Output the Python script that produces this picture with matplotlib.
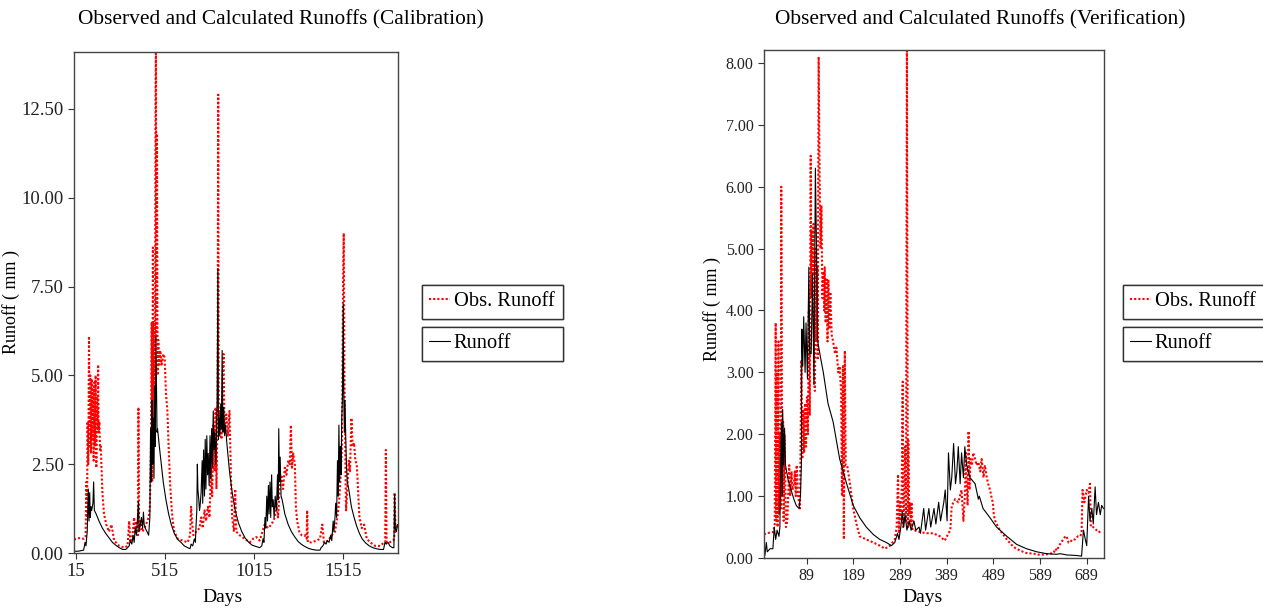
import matplotlib
matplotlib.use("Agg")
import matplotlib.pyplot as plt
from matplotlib.lines import Line2D
from matplotlib.ticker import FormatStrFormatter

# Calibration period - observed runoff (day, mm)
calObsDays = [6, 34, 62, 71, 75, 79, 82, 86, 90, 94, 97, 101, 105, 109, 112, 116, 120, 124, 127, 131,
              135, 139, 141, 144, 148, 152, 156, 165, 174, 187, 202, 216, 231, 259, 287, 306, 315, 321,
              334, 343, 349, 356, 364, 367, 371, 381, 390, 409, 424, 431, 437, 441, 444, 448, 452, 456,
              459, 463, 465, 467, 471, 474, 478, 484, 489, 497, 506, 514, 521, 529, 536, 544, 551, 559,
              568, 587, 615, 643, 656, 662, 667, 675, 690, 709, 718, 727, 737, 746, 756, 765, 774, 780,
              787, 793, 799, 804, 810, 814, 817, 825, 832, 838, 844, 849, 859, 868, 877, 885, 892, 902,
              909, 915, 934, 962, 990, 1009, 1027, 1046, 1074, 1093, 1112, 1131, 1140, 1149, 1159, 1168,
              1177, 1187, 1196, 1206, 1215, 1221, 1227, 1234, 1243, 1249, 1256, 1268, 1281, 1299, 1309,
              1312, 1316, 1337, 1365, 1384, 1397, 1406, 1431, 1449, 1468, 1481, 1492, 1500, 1507, 1513,
              1517, 1521, 1524, 1530, 1537, 1545, 1552, 1560, 1567, 1575, 1582, 1590, 1597, 1605, 1618,
              1631, 1646, 1665, 1693, 1721, 1744, 1749, 1753, 1757, 1774, 1793, 1800, 1802, 1807, 1815, 1821]
calObs = [0.38, 0.42, 0.4, 0.45, 2.0, 1.0, 3.7, 2.5, 6.1, 3.0, 5.0, 2.8, 4.9, 3.2, 4.6, 2.6, 4.8, 3.0, 5.0, 2.4,
          4.4, 3.5, 5.3, 3.4, 3.7, 2.9, 3.0, 1.7, 1.1, 0.8, 0.6, 0.8, 0.35, 0.2, 0.15, 0.2, 0.9, 0.3,
          0.5, 1.0, 0.6, 0.9, 0.5, 4.1, 0.6, 0.9, 0.6, 0.8, 1.0, 1.3, 3.0, 6.5, 2.0, 8.6, 3.0, 6.5,
          4.5, 13.0, 14.3, 6.0, 11.8, 5.0, 6.0, 5.3, 5.7, 5.3, 5.6, 5.5, 4.5, 4.0, 3.0, 2.0, 1.4, 0.9,
          0.6, 0.4, 0.35, 0.3, 0.5, 1.3, 0.9, 0.5, 0.6, 0.7, 1.0, 0.7, 1.2, 0.9, 1.3, 1.0, 2.4, 1.6,
          3.6, 2.3, 4.1, 1.8, 3.9, 12.9, 3.3, 4.0, 3.2, 5.0, 5.6, 3.4, 3.9, 3.3, 4.0, 2.2, 1.0, 0.6,
          1.8, 0.6, 0.5, 0.4, 0.3, 0.4, 0.45, 0.35, 0.8, 0.7, 0.8, 1.0, 1.4, 1.0, 1.9, 2.2,
          1.8, 2.4, 2.2, 2.6, 2.5, 3.6, 2.4, 2.8, 2.5, 1.3, 0.9, 0.6, 0.5, 0.5, 0.4,
          1.2, 0.3, 0.3, 0.35, 0.4, 0.8, 0.3, 0.35, 0.5, 0.6, 1.0, 1.5, 2.2, 3.0, 7.5,
          9.0, 5.0, 3.5, 1.2, 1.8, 2.6, 2.3, 3.8, 3.0, 3.1, 2.6, 2.5, 1.8, 1.0, 0.7,
          0.8, 0.4, 0.3, 0.2, 0.2, 0.3, 0.3, 2.9, 0.3, 0.3, 0.35, 0.4, 1.7, 0.6, 0.75, 0.7]

# Calibration period - calculated runoff
calSimDays = [6, 30, 60, 68, 73, 80, 86, 90, 94, 97, 101, 105, 112, 116, 120, 130, 146, 165, 184, 203,
              221, 240, 259, 278, 296, 306, 315, 321, 330, 337, 343, 349, 356, 362, 367, 371, 377, 384,
              390, 395, 399, 405, 415, 424, 431, 435, 439, 443, 446, 450, 454, 458, 461, 465, 468, 471,
              474, 484, 495, 506, 521, 536, 551, 568, 587, 605, 624, 643, 656, 662, 671, 680, 686, 690,
              694, 697, 700, 705, 709, 712, 718, 724, 727, 732, 737, 741, 745, 750, 754, 758, 763, 768,
              772, 777, 781, 786, 790, 795, 800, 804, 808, 812, 815, 819, 823, 828, 832, 836, 840, 845,
              850, 855, 862, 877, 892, 909, 927, 946, 965, 985, 1004, 1027, 1046, 1058, 1065, 1070, 1076,
              1080, 1086, 1090, 1095, 1099, 1104, 1108, 1113, 1117, 1122, 1127, 1133, 1140, 1146, 1150,
              1153, 1157, 1161, 1166, 1172, 1187, 1206, 1224, 1243, 1262, 1281, 1300, 1320, 1340, 1365,
              1384, 1390, 1400, 1410, 1418, 1425, 1435, 1444, 1450, 1458, 1462, 1468, 1472, 1477, 1482,
              1486, 1490, 1494, 1498, 1502, 1506, 1510, 1514, 1517, 1521, 1524, 1528, 1532, 1537, 1545,
              1560, 1575, 1590, 1605, 1620, 1640, 1660, 1680, 1700, 1720, 1740, 1748, 1755, 1765, 1775,
              1790, 1798, 1802, 1806, 1812, 1818, 1821]
calSim = [0.05, 0.05, 0.08, 0.3, 0.2, 0.6, 1.8, 0.9, 1.7, 1.0, 1.3, 1.2, 1.4, 2.0, 1.2, 1.1, 0.9, 0.7, 0.55, 0.42,
          0.3, 0.22, 0.15, 0.1, 0.1, 0.15, 0.2, 0.35, 0.25, 0.5, 0.3, 0.7, 0.5, 1.0, 1.45, 0.6, 0.8, 1.0,
          0.7, 1.15, 0.8, 0.7, 0.6, 0.5, 1.0, 3.5, 2.0, 4.3, 2.5, 3.8, 2.1, 4.7, 3.0, 6.1, 4.8, 3.4,
          3.5, 3.0, 2.5, 2.0, 1.5, 1.1, 0.8, 0.55, 0.38, 0.3, 0.2, 0.15, 0.12, 0.25, 0.2, 0.4, 0.3, 0.8,
          1.2, 2.5, 1.8, 1.5, 1.2, 1.3, 1.7, 2.6, 1.4, 2.9, 1.6, 3.2, 1.8, 3.3, 2.2, 2.8, 1.9, 3.3,
          2.1, 3.5, 2.4, 4.0, 2.9, 3.4, 2.5, 3.3, 4.3, 8.0, 3.2, 3.8, 3.3, 4.2, 3.5, 5.7, 3.4, 4.1,
          3.3, 3.6, 3.1, 2.3, 1.7, 1.2, 0.85, 0.6, 0.42, 0.3, 0.22, 0.18, 0.15, 0.2, 0.4, 0.3, 1.0,
          0.7, 1.6, 0.9, 1.9, 1.1, 2.0, 1.0, 2.2, 1.3, 1.5, 1.0, 1.6, 1.2, 2.2, 1.5,
          3.5, 2.0, 2.7, 1.6, 1.5, 1.1, 0.8, 0.6, 0.45, 0.32, 0.24, 0.18, 0.13, 0.1, 0.08,
          0.08, 0.15, 0.2, 0.3, 0.25, 0.35, 0.3, 0.5, 0.35, 0.9, 0.6, 1.0, 1.4, 1.0, 2.6,
          1.6, 3.6, 2.0, 3.0, 2.2, 3.8, 4.4, 7.0, 4.6, 3.4, 4.3, 3.3, 2.5, 2.0, 1.8,
          1.3, 1.0, 0.75, 0.55, 0.4, 0.28, 0.2, 0.15, 0.12, 0.1, 0.1, 0.3, 0.25, 0.3, 0.2,
          0.15, 0.15, 1.65, 0.7, 0.6, 0.8, 0.8]

# Verification period - observed runoff
verObsDays = [-2, 3, 18, 21, 23, 24, 26, 27, 29, 30, 32, 34, 35, 37, 39, 40, 42, 45, 48, 52, 54, 57, 59, 62,
              64, 66, 68, 71, 75, 78, 80, 82, 84, 86, 88, 90, 92, 94, 96, 98, 99, 100, 102, 104, 105, 107,
              109, 110, 112, 113, 115, 117, 119, 121, 123, 125, 127, 128, 130, 132, 134, 136, 138, 140,
              143, 146, 150, 153, 157, 160, 163, 165, 167, 169, 171, 173, 176, 182, 189, 196, 203, 217,
              232, 246, 257, 268, 278, 282, 285, 287, 289, 291, 293, 295, 296, 298, 300, 302, 304, 306,
              307, 309, 311, 312, 314, 316, 319, 332, 346, 360, 375, 385, 393, 397, 400, 404, 407, 414,
              421, 425, 428, 430, 432, 434, 436, 438, 440, 443, 446, 450, 453, 457, 461, 464, 468, 471,
              475, 478, 482, 486, 488, 490, 493, 503, 518, 532, 546, 560, 575, 589, 603, 618, 622, 625,
              630, 634, 639, 643, 646, 650, 653, 658, 664, 670, 675, 678, 680, 684, 689, 693, 696, 698,
              703, 710, 714, 718, 721]
verObs = [0.38, 0.4, 0.42, 0.55, 3.8, 0.6, 3.0, 0.5, 3.5, 0.7, 2.0, 0.8, 6.0, 1.0, 2.2, 0.6, 2.0, 0.5, 0.6, 1.5,
          1.0, 1.4, 1.1, 1.2, 1.4, 1.0, 1.5, 1.0, 0.8, 3.2, 1.6, 2.4, 1.7, 2.5, 1.8, 2.6, 2.0, 4.0, 2.3,
          6.5, 4.2, 5.3, 4.6, 5.4, 2.9, 2.7, 5.0, 3.5, 4.7, 3.2, 8.1, 6.2, 5.0, 5.7, 4.2, 4.6, 4.0, 4.7,
          3.8, 4.5, 3.5, 4.5, 3.7, 4.3, 3.6, 3.5, 3.3, 3.4, 3.0, 3.1, 2.7, 1.0, 3.1, 0.3, 3.35, 1.5, 1.5,
          1.2, 0.8, 0.55, 0.35, 0.3, 0.25, 0.2, 0.15, 0.2, 0.3, 0.5, 1.35, 0.4, 0.9, 0.6, 1.2, 2.85, 0.5,
          0.8, 1.8, 0.6, 8.5, 0.5, 1.9, 0.7, 0.9, 0.5, 0.9, 0.45, 0.45, 0.42, 0.4, 0.4, 0.35, 0.28, 0.4,
          0.45, 0.85, 0.9, 0.95, 0.9, 1.1, 0.6, 1.0, 1.7, 1.2, 0.85, 2.05, 1.1, 1.6, 1.5, 1.7, 1.6, 1.5,
          1.55, 1.4, 1.6, 1.3, 1.5, 1.3, 1.2, 1.1, 0.95, 0.9, 0.7, 0.6, 0.45, 0.3, 0.18, 0.12, 0.08, 0.07,
          0.05, 0.06, 0.08, 0.15, 0.12, 0.2, 0.25, 0.3, 0.35, 0.35, 0.25, 0.25, 0.3, 0.3, 0.35, 0.35,
          0.4, 1.1, 0.9, 1.1, 1.05, 1.2, 0.5, 0.5, 0.45, 0.45, 0.4, 0.4]

# Verification period - calculated runoff
verSimDays = [-2, 0, 3, 5, 11, 17, 20, 23, 26, 30, 32, 35, 37, 38, 40, 42, 44, 50, 56, 62, 67, 73, 76, 78,
              79, 81, 83, 86, 88, 91, 94, 96, 99, 102, 105, 108, 111, 113, 120, 125, 135, 146, 160, 175,
              189, 203, 217, 232, 246, 260, 271, 278, 284, 287, 291, 294, 297, 300, 304, 309, 313, 319,
              323, 330, 333, 340, 344, 351, 355, 362, 366, 372, 376, 383, 386, 390, 393, 397, 400, 404,
              408, 411, 414, 418, 421, 425, 428, 432, 439, 450, 457, 459, 467, 482, 496, 518, 539, 560,
              582, 603, 625, 632, 646, 668, 678, 682, 686, 689, 693, 696, 700, 703, 707, 710, 714, 718,
              721, 725]
verSim = [0.0, 0.05, 0.25, 0.1, 0.15, 0.15, 0.5, 0.3, 0.45, 0.35, 0.5, 2.2, 1.0, 2.4, 1.5, 2.1, 1.5, 1.25, 1.1,
          0.95, 0.85, 0.8, 1.0, 1.5, 3.7, 3.1, 3.9, 3.0, 3.8, 2.9, 4.7, 3.3, 3.3, 4.6, 2.8, 6.3, 4.7, 3.5,
          3.2, 3.0, 2.5, 2.2, 1.6, 1.2, 0.85, 0.65, 0.5, 0.38, 0.3, 0.25, 0.2, 0.25, 0.4, 0.3, 0.5, 0.75,
          0.5, 0.7, 0.45, 0.6, 0.45, 0.6, 0.45, 0.5, 0.4, 0.8, 0.45, 0.8, 0.5, 0.8, 0.55, 0.9, 0.6, 0.9,
          1.1, 0.6, 1.7, 1.1, 1.3, 1.85, 1.2, 1.4, 1.8, 1.2, 1.7, 1.3, 1.8, 1.5, 1.3, 1.2, 0.95, 1.0, 0.8,
          0.65, 0.5, 0.35, 0.22, 0.15, 0.1, 0.07, 0.06, 0.07, 0.05, 0.04, 0.03, 0.45, 0.3, 0.2, 1.0, 0.6,
          0.8, 0.55, 1.15, 0.7, 0.9, 0.7, 0.85, 0.8]

calXTicks = [15, 515, 1015, 1515]
calYTicks = [0, 2.5, 5, 7.5, 10, 12.5]
verXTicks = [89, 189, 289, 389, 489, 589, 689]
verYTicks = [0, 1, 2, 3, 4, 5, 6, 7, 8]

plt.rcParams['font.family'] = ['Liberation Serif', 'DejaVu Serif']

fig = plt.figure(figsize=(12.63, 6.10), dpi=100)
obsStyle = dict(color='#ff0000', linestyle=(0, (1, 1)), linewidth=1.5)
simStyle = dict(color='black', linestyle='-', linewidth=0.8)


def styleAxes(ax, tickSize):
    for sp in ax.spines.values():
        sp.set_color('#444444')
        sp.set_linewidth(1.0)
    ax.tick_params(direction='out', length=4, width=0.8, colors='#333333', labelsize=tickSize)
    ax.tick_params(labelcolor='#222222')
    ax.yaxis.set_major_formatter(FormatStrFormatter('%.2f'))


# left chart: calibration
ax1 = fig.add_axes([74 / 1263, 57 / 610, 324 / 1263, 501 / 610])
ax1.plot(calObsDays, calObs, **obsStyle)
ax1.plot(calSimDays, calSim, **simStyle)
ax1.set_xlim(6, 1821)
ax1.set_ylim(0, 14.1)
ax1.set_xticks(calXTicks)
ax1.set_yticks(calYTicks)
styleAxes(ax1, 13.5)
ax1.set_xlabel('Days', fontsize=14)
ax1.set_ylabel('Runoff ( mm )', fontsize=13)
ax1.xaxis.set_label_coords(0.457, -0.072)
ax1.yaxis.set_label_coords(-0.167, 0.5)

# right chart: verification
ax2 = fig.add_axes([764 / 1263, 52 / 610, 340 / 1263, 508 / 610])
ax2.plot(verObsDays, verObs, **obsStyle)
ax2.plot(verSimDays, verSim, **simStyle)
ax2.set_xlim(-2, 726)
ax2.set_ylim(0, 8.21)
ax2.set_xticks(verXTicks)
ax2.set_yticks(verYTicks)
styleAxes(ax2, 11.5)
ax2.set_xlabel('Days', fontsize=14)
ax2.set_ylabel('Runoff ( mm )', fontsize=13)
ax2.xaxis.set_label_coords(0.465, -0.062)
ax2.yaxis.set_label_coords(-0.126, 0.49)

# titles sit left of centre, like the original
fig.text(78 / 1263, 1 - 20 / 610, 'Observed and Calculated Runoffs (Calibration)', fontsize=15.4, va='center', ha='left')
fig.text(775 / 1263, 1 - 20 / 610, 'Observed and Calculated Runoffs (Verification)', fontsize=15.4, va='center', ha='left')

# each series gets its own boxed legend
obsHandle = Line2D([], [], **obsStyle)
simHandle = Line2D([], [], **simStyle)
legBoxes = [(422, 285, obsHandle, 'Obs. Runoff'), (422, 327, simHandle, 'Runoff'),
            (1123, 285, obsHandle, 'Obs. Runoff'), (1123, 327, simHandle, 'Runoff')]
for x0, y0, handle, label in legBoxes:
    leg = fig.legend([handle], [label], loc='upper left',
                     bbox_to_anchor=(x0 / 1263, 1 - y0 / 610, 141 / 1263, 0.0), mode='expand',
                     fontsize=14.7, handlelength=1.0, handletextpad=0.2, borderpad=0.35,
                     fancybox=False, framealpha=1, edgecolor='#333333', borderaxespad=0)
    leg.get_frame().set_linewidth(1.0)
    fig.add_artist(leg)

fig.savefig('out.png', dpi=100)
